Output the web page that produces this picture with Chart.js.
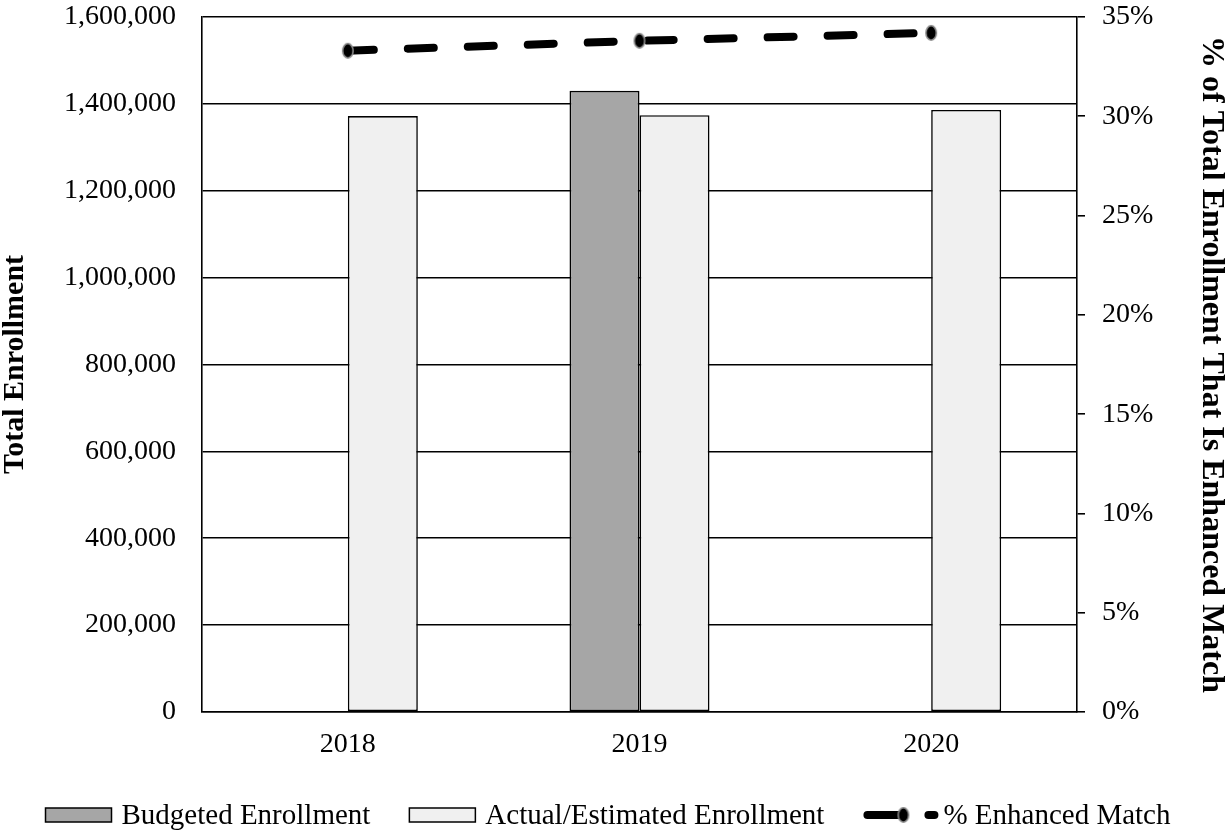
<!DOCTYPE html>
<html>
<head>
<meta charset="utf-8">
<script src="https://cdn.jsdelivr.net/npm/chart.js@4/dist/chart.umd.min.js"></script>
<style>
  html, body { margin: 0; padding: 0; background: #fff; }
  #wrap { width: 1232px; height: 833px; }
</style>
</head>
<body>
<div id="wrap"><canvas id="c" width="1232" height="833"></canvas></div>
<script>
const categories = ['2018', '2019', '2020'];
const budgetedEnrollment = [null, 1430000, null];
const actualEnrollment = [1372000, 1374000, 1386000];
const pctEnhancedMatch = [33.3, 33.8, 34.2];
const leftTicks = [0, 200000, 400000, 600000, 800000, 1000000, 1200000, 1400000, 1600000];
const rightTicks = [0, 5, 10, 15, 20, 25, 30, 35];

const FONT = "'Liberation Serif', 'Times New Roman', serif";
const TICK_SIZE = 28;
const LEGEND_SIZE = 29;

// elliptical marker used for the line points
function makeMarker() {
  const c = document.createElement('canvas');
  c.width = 14; c.height = 18;
  const g = c.getContext('2d');
  g.beginPath();
  g.ellipse(7, 9, 5.2, 7.2, 0, 0, Math.PI * 2);
  g.fillStyle = '#000'; g.fill();
  g.lineWidth = 1.6; g.strokeStyle = '#8c8c8c'; g.stroke();
  return c;
}
const marker = makeMarker();

const customLegend = {
  id: 'customLegend',
  afterDraw(chart) {
    const ctx = chart.ctx;
    const ds = chart.data.datasets;
    const y = 815;
    ctx.save();
    ctx.font = LEGEND_SIZE + 'px ' + FONT;
    ctx.textBaseline = 'middle';
    const boxW = 66, boxH = 14, symW = 75, gapText = 10, gapItem = 39;
    const items = [
      { ds: ds[1], type: 'box' },
      { ds: ds[2], type: 'box' },
      { ds: ds[0], type: 'line' }
    ];
    let total = 0;
    items.forEach((it, i) => {
      it.tw = ctx.measureText(it.ds.label).width;
      it.sw = it.type === 'box' ? boxW : symW;
      it.gt = it.type === 'box' ? gapText : 5;
      total += it.sw + it.gt + it.tw + (i < items.length - 1 ? gapItem : 0);
    });
    let x = 608 - total / 2;
    items.forEach((it) => {
      if (it.type === 'box') {
        ctx.fillStyle = it.ds.backgroundColor;
        ctx.fillRect(x, y - boxH / 2, boxW, boxH);
        ctx.strokeStyle = '#000';
        ctx.lineWidth = 1.5;
        ctx.strokeRect(x, y - boxH / 2, boxW, boxH);
      } else {
        ctx.strokeStyle = '#000';
        ctx.lineWidth = 8;
        ctx.lineCap = 'round';
        ctx.beginPath(); ctx.moveTo(x + 4, y); ctx.lineTo(x + 36, y); ctx.stroke();
        ctx.beginPath(); ctx.moveTo(x + 65, y); ctx.lineTo(x + 71, y); ctx.stroke();
        ctx.drawImage(marker, x + 33, y - 9);
      }
      ctx.fillStyle = '#000';
      ctx.fillText(it.ds.label, x + it.sw + it.gt, y + 1);
      x += it.sw + it.gt + it.tw + gapItem;
    });
    ctx.restore();
  }
};

function zeroPad(s) { s.paddingTop = 0; s.paddingBottom = 0; s.paddingLeft = 0; s.paddingRight = 0; }

new Chart(document.getElementById('c'), {
  data: {
    labels: categories,
    datasets: [
      {
        type: 'line',
        label: '% Enhanced Match',
        data: pctEnhancedMatch,
        yAxisID: 'y1',
        borderColor: '#000',
        backgroundColor: '#000',
        borderWidth: 8,
        borderDash: [26, 34],
        borderCapStyle: 'round',
        pointStyle: marker,
        pointRadius: 7,
        tension: 0,
        order: 0
      },
      {
        type: 'bar',
        label: 'Budgeted Enrollment',
        data: budgetedEnrollment,
        yAxisID: 'y',
        backgroundColor: '#a6a6a6',
        borderColor: '#000',
        borderWidth: 1.6,
        borderSkipped: false,
        categoryPercentage: 0.48,
        barPercentage: 1.0,
        order: 1
      },
      {
        type: 'bar',
        label: 'Actual/Estimated Enrollment',
        data: actualEnrollment,
        yAxisID: 'y',
        backgroundColor: '#f0f0f0',
        borderColor: '#000',
        borderWidth: 1.6,
        borderSkipped: false,
        categoryPercentage: 0.48,
        barPercentage: 1.0,
        order: 2
      }
    ]
  },
  options: {
    responsive: false,
    animation: false,
    layout: { padding: { top: 17, bottom: 45, left: 0, right: 0 } },
    plugins: {
      legend: { display: false },
      tooltip: { enabled: false }
    },
    scales: {
      x: {
        grid: { display: false, drawTicks: false },
        border: { display: true, color: '#000', width: 1.6 },
        ticks: { color: '#000', font: { family: FONT, size: TICK_SIZE }, padding: 16, maxRotation: 0 },
        afterFit(s) { s.height = 833 - 45 - 712; zeroPad(s); }
      },
      y: {
        position: 'left',
        min: 0, max: 1600000,
        afterBuildTicks(s) { s.ticks = leftTicks.map(v => ({ value: v })); },
        grid: { color: '#000', lineWidth: 1.6, drawTicks: false },
        border: { display: true, color: '#000', width: 1.6 },
        ticks: {
          color: '#000',
          font: { family: FONT, size: TICK_SIZE },
          padding: 26,
          callback: v => v.toLocaleString('en-US')
        },
        title: {
          display: true,
          text: 'Total Enrollment',
          color: '#000',
          font: { family: FONT, size: 30, weight: 'bold' },
          padding: { top: -3, bottom: 0 }
        },
        afterFit(s) { s.width = 202; zeroPad(s); }
      },
      y1: {
        position: 'right',
        min: 0, max: 35,
        afterBuildTicks(s) { s.ticks = rightTicks.map(v => ({ value: v })); },
        grid: { drawOnChartArea: false, color: '#000', lineWidth: 1.6, tickLength: 8 },
        border: { display: true, color: '#000', width: 1.6 },
        ticks: {
          color: '#000',
          font: { family: FONT, size: TICK_SIZE },
          padding: 17,
          callback: v => v + '%'
        },
        title: {
          display: true,
          text: '% of Total Enrollment That Is Enhanced Match',
          color: '#000',
          font: { family: FONT, size: 32, weight: 'bold' },
          padding: { top: 2, bottom: 0 }
        },
        afterFit(s) { s.width = 1232 - 1077; zeroPad(s); }
      }
    }
  },
  plugins: [customLegend]
});
</script>
</body>
</html>
